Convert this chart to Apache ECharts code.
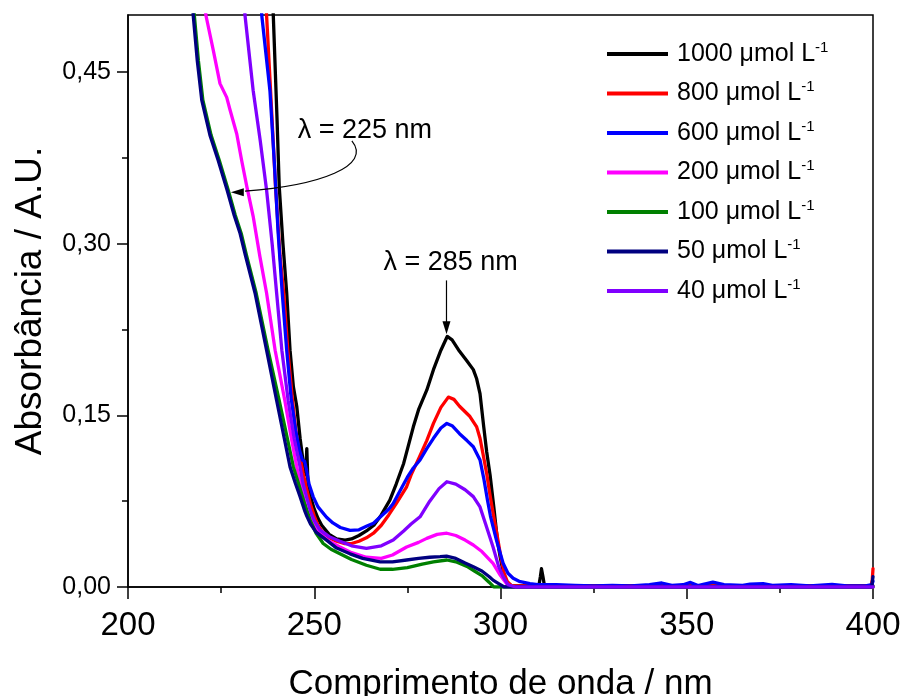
<!DOCTYPE html>
<html>
<head>
<meta charset="utf-8">
<script src="https://cdn.jsdelivr.net/npm/echarts@6/dist/echarts.min.js"></script>
<style>
  html, body { margin: 0; padding: 0; background: #fff; }
  #chart { width: 904px; height: 696px; }
</style>
</head>
<body>
<div id="chart"></div>
<script>
// UV-Vis absorption spectra, [wavelength (nm), absorbance] per concentration
const concentrations = [1000, 800, 600, 200, 100, 50, 40];
const seriesColors = ['#000000', '#ff0000', '#0000ff', '#ff00ff', '#008000', '#000080', '#8000ff'];

const yTicks = [0, 0.15, 0.30, 0.45];
const yMinorTicks = [0.075, 0.225, 0.375];

const abs1000 = [
  [238.0, 0.58], [239.0, 0.50], [240.0, 0.41], [240.6, 0.35], [241.6, 0.30], [242.6, 0.257],
  [243.5, 0.207], [244.4, 0.175], [245.3, 0.158], [246.2, 0.13], [247.0, 0.11], [247.7, 0.098],
  [248.0, 0.121], [248.3, 0.092], [249.0, 0.079], [250.0, 0.068], [251.0, 0.06], [252.0, 0.054],
  [254.0, 0.046], [256.0, 0.042], [258.3, 0.041], [260.0, 0.042], [262.0, 0.045], [264.0, 0.049],
  [266.0, 0.054], [268.0, 0.063], [270.3, 0.076], [272.0, 0.09], [274.0, 0.108], [276.6, 0.14],
  [278.0, 0.155], [280.2, 0.172], [282.0, 0.19], [284.0, 0.207], [285.7, 0.219], [287.0, 0.216],
  [289.0, 0.206], [290.9, 0.198], [292.7, 0.19], [293.6, 0.182], [294.5, 0.169], [295.5, 0.14],
  [296.3, 0.118], [297.2, 0.098], [298.2, 0.07], [299.2, 0.04], [299.9, 0.0265], [300.8, 0.012],
  [301.6, 0.004], [303.0, 0.001], [310.3, 0.001], [310.7, 0.009], [311.0, 0.016], [311.4, 0.009],
  [311.8, 0.001], [400.0, 0.001]
];

const abs800 = [
  [236.0, 0.58], [237.2, 0.50], [238.5, 0.42], [239.6, 0.35], [240.8, 0.29], [241.8, 0.257],
  [242.9, 0.207], [244.1, 0.165], [245.0, 0.138], [246.0, 0.117], [247.0, 0.1], [248.0, 0.085],
  [249.0, 0.072], [250.0, 0.062], [251.0, 0.054], [252.0, 0.049], [254.0, 0.043], [256.0, 0.04],
  [258.0, 0.038], [260.0, 0.038], [262.0, 0.04], [264.0, 0.043], [265.9, 0.047], [268.0, 0.054],
  [270.0, 0.063], [272.0, 0.073], [274.8, 0.0876], [276.0, 0.098], [278.0, 0.112], [280.2, 0.128],
  [282.0, 0.143], [284.0, 0.157], [286.0, 0.166], [287.5, 0.164], [289.0, 0.158], [291.8, 0.149],
  [293.6, 0.14], [294.5, 0.13], [295.5, 0.113], [296.3, 0.099], [297.2, 0.08], [298.2, 0.061],
  [299.0, 0.047], [300.0, 0.028], [301.0, 0.012], [301.8, 0.005], [303.0, 0.001], [399.5, 0.001],
  [399.8, 0.006], [400.0, 0.016]
];

const abs600 = [
  [234.6, 0.58], [235.9, 0.50], [238.1, 0.434], [239.3, 0.37], [240.3, 0.31], [241.4, 0.257],
  [242.6, 0.207], [243.8, 0.165], [245.0, 0.137], [246.0, 0.12], [246.8, 0.111], [247.4, 0.11],
  [248.0, 0.101], [248.6, 0.09], [249.7, 0.079], [251.0, 0.07], [253.3, 0.061], [255.0, 0.056],
  [257.0, 0.052], [259.6, 0.0495], [262.0, 0.05], [264.0, 0.053], [265.9, 0.0557], [268.0, 0.062],
  [270.0, 0.068], [271.2, 0.073], [273.0, 0.084], [275.0, 0.096], [276.6, 0.104], [278.4, 0.111],
  [280.2, 0.121], [282.0, 0.13], [284.0, 0.139], [285.6, 0.143], [287.0, 0.141], [289.0, 0.134],
  [291.0, 0.128], [292.7, 0.1226], [294.5, 0.111], [295.5, 0.095], [296.5, 0.076], [297.3, 0.062],
  [298.0, 0.0527], [299.0, 0.04], [300.7, 0.0207], [302.0, 0.012], [303.4, 0.0076], [305.0, 0.005],
  [307.9, 0.003], [310.0, 0.002], [315.0, 0.002], [320.0, 0.0015], [325.0, 0.001], [330.0, 0.0015],
  [335.0, 0.001], [340.0, 0.002], [343.3, 0.0035], [346.0, 0.0015], [349.0, 0.002], [351.0, 0.004],
  [353.0, 0.0012], [357.0, 0.0042], [360.0, 0.002], [365.0, 0.0015], [367.0, 0.0025], [370.5, 0.003],
  [373.0, 0.0015], [378.0, 0.002], [383.0, 0.001], [389.0, 0.0022], [393.0, 0.001], [398.0, 0.001],
  [399.7, 0.002], [400.0, 0.005]
];

const abs200 = [
  [219.6, 0.58], [220.9, 0.50], [222.9, 0.469], [224.7, 0.44], [226.5, 0.428], [227.4, 0.417],
  [229.2, 0.396], [230.5, 0.373], [231.9, 0.35], [233.6, 0.324], [235.4, 0.289], [237.2, 0.257],
  [239.5, 0.207], [242.1, 0.163], [243.7, 0.133], [245.3, 0.105], [246.7, 0.084], [248.0, 0.067],
  [249.7, 0.055], [251.5, 0.047], [254.0, 0.04], [256.9, 0.035], [260.0, 0.03], [264.0, 0.026],
  [268.0, 0.025], [271.0, 0.028], [274.8, 0.035], [278.0, 0.039], [280.2, 0.0425], [283.0, 0.046],
  [285.6, 0.047], [288.0, 0.045], [290.5, 0.041], [292.7, 0.0367], [295.0, 0.031], [298.0, 0.0207],
  [300.0, 0.01], [301.6, 0.003], [303.0, 0.0], [400.0, 0.0]
];

const abs100 = [
  [216.2, 0.58], [217.8, 0.50], [218.9, 0.46], [220.1, 0.4256], [222.3, 0.395], [224.5, 0.373],
  [226.9, 0.347], [228.8, 0.325], [230.4, 0.309], [231.8, 0.29], [234.4, 0.257], [237.6, 0.207],
  [240.6, 0.163], [242.5, 0.134], [244.4, 0.105], [246.0, 0.088], [247.5, 0.072], [248.9, 0.0585],
  [250.5, 0.047], [252.4, 0.038], [254.5, 0.033], [256.9, 0.029], [260.0, 0.024], [264.0, 0.019],
  [267.7, 0.0155], [271.0, 0.0155], [275.0, 0.017], [279.0, 0.02], [282.0, 0.022], [285.6, 0.0236],
  [288.0, 0.022], [291.0, 0.018], [293.0, 0.014], [295.0, 0.01], [297.0, 0.004], [298.2, 0.0],
  [400.0, 0.0]
];

const abs50 = [
  [216.0, 0.58], [217.5, 0.50], [218.6, 0.46], [219.8, 0.4256], [222.0, 0.395], [224.2, 0.373],
  [226.6, 0.347], [228.5, 0.325], [230.1, 0.309], [231.5, 0.29], [234.1, 0.257], [237.2, 0.207],
  [239.9, 0.163], [241.7, 0.134], [243.5, 0.105], [245.0, 0.09], [246.2, 0.079], [247.5, 0.066],
  [248.0, 0.062], [249.0, 0.055], [250.5, 0.048], [253.3, 0.041], [256.0, 0.034], [259.6, 0.029],
  [263.0, 0.025], [267.7, 0.022], [271.0, 0.022], [274.8, 0.0236], [278.0, 0.025], [281.0, 0.026],
  [283.8, 0.0265], [285.5, 0.027], [288.0, 0.025], [290.5, 0.021], [292.7, 0.0177], [295.0, 0.014],
  [297.0, 0.009], [298.0, 0.006], [299.5, 0.003], [301.0, 0.0], [399.6, 0.0], [399.8, 0.004],
  [400.0, 0.009]
];

const abs40 = [
  [230.0, 0.58], [231.4, 0.50], [233.6, 0.434], [235.5, 0.39], [237.2, 0.347], [238.7, 0.30],
  [239.9, 0.257], [241.3, 0.207], [243.0, 0.163], [244.6, 0.13], [246.2, 0.105], [247.0, 0.09],
  [248.0, 0.078], [248.9, 0.067], [250.0, 0.058], [251.5, 0.05], [254.0, 0.044], [256.9, 0.04],
  [260.0, 0.036], [264.0, 0.0338], [268.0, 0.036], [271.2, 0.041], [274.0, 0.049], [276.0, 0.055],
  [278.4, 0.0614], [281.0, 0.075], [283.5, 0.086], [285.6, 0.092], [288.0, 0.09], [290.5, 0.085],
  [292.7, 0.079], [294.5, 0.07], [296.0, 0.055], [298.0, 0.035], [299.5, 0.018], [300.7, 0.009],
  [302.0, 0.002], [304.0, 0.0], [400.0, 0.0]
];

const spectra = [abs1000, abs800, abs600, abs200, abs100, abs50, abs40];

const FONT = "'Liberation Sans', Arial, sans-serif";
const chart = echarts.init(document.getElementById('chart'), null, { renderer: 'canvas' });

const seriesNames = concentrations.map(c => c + ' μmol L-1');

chart.setOption({
  animation: false,
  backgroundColor: '#ffffff',
  textStyle: { fontFamily: FONT, color: '#000' },
  grid: {
    left: 128, right: 31, top: 15, bottom: 109,
    outerBoundsMode: 'none',
    containLabel: false,
    show: true, borderColor: '#000', borderWidth: 1.5, backgroundColor: 'transparent'
  },
  legend: {
    orient: 'vertical',
    left: 602,
    top: 35,
    icon: 'rect',
    itemWidth: 61,
    itemHeight: 4,
    itemGap: 13,
    data: seriesNames,
    formatter: name => '{t|' + name.replace(' L-1', ' L') + '}{s|-1}',
    textStyle: {
      fontFamily: FONT,
      color: '#000',
      rich: {
        t: { fontSize: 25, lineHeight: 28, fontFamily: FONT, color: '#000', padding: [0, 0, 0, 4] },
        s: { fontSize: 15, lineHeight: 14, verticalAlign: 'top', fontFamily: FONT, color: '#000' }
      }
    }
  },
  xAxis: {
    type: 'value',
    min: 200, max: 400, interval: 50,
    name: 'Comprimento de onda / nm',
    nameLocation: 'middle',
    nameGap: 80,
    nameTextStyle: { fontSize: 35, fontFamily: FONT, color: '#000' },
    axisLine: { show: true, onZero: false, lineStyle: { color: '#000', width: 1.5 } },
    axisTick: { show: true, inside: false, length: 12, lineStyle: { color: '#000', width: 1.5 } },
    minorTick: { show: true, splitNumber: 2, length: 6, lineStyle: { color: '#000', width: 1.5 } },
    axisLabel: { fontSize: 33, margin: 22, color: '#000', fontFamily: FONT },
    splitLine: { show: false },
    minorSplitLine: { show: false }
  },
  yAxis: [
    {
      type: 'value',
      min: 0, max: 0.5,
      name: 'Absorbância / A.U.',
      nameLocation: 'middle',
      nameGap: 79,
      nameTextStyle: { fontSize: 37, fontFamily: FONT, color: '#000' },
      axisLine: { show: true, onZero: false, lineStyle: { color: '#000', width: 1.5 } },
      axisTick: { show: true, inside: false, length: 11, customValues: yTicks, lineStyle: { color: '#000', width: 1.5 } },
      axisLabel: {
        fontSize: 25, margin: 17, color: '#000', fontFamily: FONT,
        customValues: yTicks,
        formatter: v => v.toFixed(2).replace('.', ',')
      },
      splitLine: { show: false }
    },
    {
      type: 'value',
      min: 0, max: 0.5,
      position: 'left',
      axisLine: { show: false },
      axisTick: { show: true, inside: false, length: 6, customValues: yMinorTicks, lineStyle: { color: '#000', width: 1.5 } },
      axisLabel: { show: false },
      splitLine: { show: false }
    }
  ],
  series: spectra.map((data, i) => ({
    name: seriesNames[i],
    type: 'line',
    data: data,
    showSymbol: false,
    symbol: 'none',
    clip: true,
    color: seriesColors[i],
    lineStyle: { color: seriesColors[i], width: 3.3, join: 'round', cap: 'round' },
    emphasis: { disabled: true },
    z: 2 + i
  }))
});

// Peak annotations, anchored in data coordinates
const px = p => chart.convertToPixel({ gridIndex: 0 }, p);

const label225 = px([263.6, 0.399]);
const label285 = px([286.6, 0.2835]);
const curveStart = px([260.1, 0.390]);
const curveCp1 = px([265.6, 0.368]);
const curveCp2 = px([251.7, 0.351]);
const curveEnd = px([231.4, 0.346]);
const tip225 = px([227.6, 0.345]);
const line285Top = px([285.5, 0.268]);
const tip285 = px([285.5, 0.221]);

const head = 13, half = 4;

chart.setOption({
  graphic: [
    {
      type: 'text', z: 100,
      style: { x: label225[0], y: label225[1], text: 'λ = 225 nm', fontSize: 27, fontFamily: FONT, fill: '#000', align: 'center', verticalAlign: 'middle' }
    },
    {
      type: 'text', z: 100,
      style: { x: label285[0], y: label285[1], text: 'λ = 285 nm', fontSize: 27, fontFamily: FONT, fill: '#000', align: 'center', verticalAlign: 'middle' }
    },
    {
      type: 'bezierCurve', z: 100,
      shape: {
        x1: curveStart[0], y1: curveStart[1],
        cpx1: curveCp1[0], cpy1: curveCp1[1],
        cpx2: curveCp2[0], cpy2: curveCp2[1],
        x2: curveEnd[0], y2: curveEnd[1]
      },
      style: { stroke: '#000', lineWidth: 1.2, fill: null }
    },
    {
      type: 'polygon', z: 100,
      shape: { points: [[tip225[0], tip225[1]], [tip225[0] + head, tip225[1] - half], [tip225[0] + head, tip225[1] + half]] },
      style: { fill: '#000' }
    },
    {
      type: 'line', z: 100,
      shape: { x1: line285Top[0], y1: line285Top[1], x2: tip285[0], y2: tip285[1] - head + 2 },
      style: { stroke: '#000', lineWidth: 1.2 }
    },
    {
      type: 'polygon', z: 100,
      shape: { points: [[tip285[0], tip285[1]], [tip285[0] - half, tip285[1] - head], [tip285[0] + half, tip285[1] - head]] },
      style: { fill: '#000' }
    }
  ]
});
</script>
</body>
</html>
